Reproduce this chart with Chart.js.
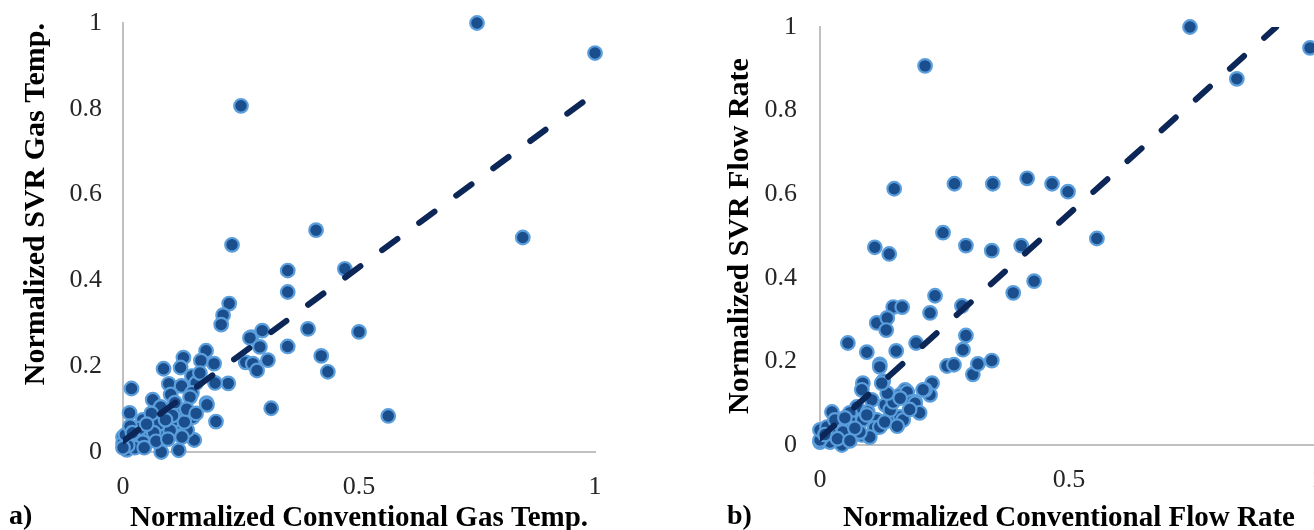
<!DOCTYPE html>
<html>
<head>
<meta charset="utf-8">
<script src="https://cdn.jsdelivr.net/npm/chart.js@4/dist/chart.umd.min.js"></script>
<style>
  html, body { margin: 0; padding: 0; background: #fff; overflow: hidden; }
  #wrap { position: relative; width: 1314px; height: 530px; overflow: hidden; }
  canvas { position: absolute; top: 0; }
  #chartA { left: 0; }
  #chartB { left: 660px; }
  .tag { position: absolute; font: bold 28px "Liberation Serif", "Times New Roman", serif; color: #000; }
</style>
</head>
<body>
<div id="wrap">
  <canvas id="chartA" width="660" height="530"></canvas>
  <canvas id="chartB" width="700" height="530"></canvas>
  <div class="tag" style="left:9px; top:499px;">a)</div>
  <div class="tag" style="left:727px; top:499px;">b)</div>
</div>
<script>
// normalized gas temperature: [conventional, SVR]
const tempPoints = [
	[0.75, 1.0], [1.0, 0.93], [0.25, 0.807], [0.847, 0.5], [0.409, 0.517], [0.231, 0.483],
	[0.349, 0.423], [0.349, 0.373], [0.47, 0.427], [0.225, 0.346], [0.212, 0.319], [0.208, 0.297],
	[0.392, 0.287], [0.5, 0.28], [0.349, 0.246], [0.42, 0.224], [0.434, 0.187], [0.562, 0.084],
	[0.314, 0.102], [0.272, 0.268], [0.295, 0.283], [0.26, 0.209], [0.275, 0.206], [0.284, 0.19],
	[0.307, 0.214], [0.269, 0.266], [0.29, 0.245], [0.223, 0.16], [0.197, 0.071], [0.177, 0.114],
	[0.176, 0.236], [0.165, 0.213], [0.193, 0.206], [0.128, 0.22], [0.086, 0.194], [0.122, 0.197],
	[0.018, 0.148], [0.146, 0.177], [0.097, 0.159], [0.124, 0.154], [0.155, 0.161], [0.146, 0.138],
	[0.101, 0.134], [0.063, 0.122], [0.014, 0.091], [0.148, 0.081], [0.151, 0.028], [0.118, 0.004],
	[0.081, 0.0], [0.119, 0.093], [0.052, 0.035],
	[0.163, 0.184], [0.195, 0.161], [0.142, 0.128], [0.178, 0.11], [0.042, 0.075], [0.068, 0.079],
	[0.089, 0.098], [0.093, 0.058], [0.057, 0.058], [0.03, 0.044], [0.057, 0.035], [0.085, 0.044],
	[0.136, 0.051], [0.0, 0.035], [0.0, 0.021], [0.008, 0.005], [0.021, 0.028], [0.042, 0.023],
	[0.117, 0.068], [0.11, 0.075], [0.1, 0.05], [0.075, 0.065], [0.065, 0.045], [0.035, 0.055],
	[0.025, 0.01], [0.01, 0.015], [0.005, 0.04], [0.045, 0.01], [0.07, 0.025], [0.095, 0.03],
	[0.13, 0.07], [0.125, 0.035], [0.11, 0.115], [0.08, 0.105], [0.06, 0.09], [0.015, 0.06],
	[0.105, 0.085], [0.135, 0.1], [0.155, 0.09], [0.0, 0.01], [0.02, 0.045], [0.05, 0.065], [0.09, 0.075]
];

// normalized flow rate: [conventional, SVR]
const flowPoints = [
	[0.743, 1.0], [0.984, 0.95], [0.837, 0.876], [0.211, 0.907], [0.149, 0.613], [0.27, 0.625],
	[0.347, 0.625], [0.416, 0.638], [0.466, 0.625], [0.498, 0.606], [0.556, 0.494], [0.247, 0.508],
	[0.11, 0.473], [0.139, 0.457], [0.293, 0.477], [0.345, 0.465], [0.404, 0.477], [0.43, 0.392],
	[0.388, 0.364], [0.231, 0.357], [0.147, 0.33], [0.165, 0.33], [0.114, 0.292], [0.135, 0.304],
	[0.133, 0.275], [0.221, 0.316], [0.285, 0.333], [0.293, 0.262], [0.287, 0.228], [0.255, 0.189],
	[0.269, 0.192], [0.307, 0.169], [0.317, 0.194], [0.345, 0.202], [0.056, 0.244], [0.094, 0.222],
	[0.12, 0.193], [0.153, 0.225], [0.193, 0.244], [0.127, 0.153], [0.225, 0.148], [0.221, 0.12],
	[0.191, 0.103], [0.171, 0.132],
	[0.086, 0.148], [0.084, 0.132], [0.211, 0.132], [0.161, 0.12], [0.175, 0.127], [0.185, 0.103],
	[0.131, 0.096], [0.104, 0.108], [0.074, 0.091], [0.06, 0.077], [0.024, 0.079], [0.04, 0.048],
	[0.064, 0.053], [0.086, 0.06], [0.114, 0.06], [0.141, 0.065], [0.161, 0.067], [0.11, 0.041],
	[0.084, 0.024], [0.046, 0.031], [0.02, 0.031], [0.006, 0.019], [0.0, 0.007], [0.02, 0.007],
	[0.044, 0.0], [0.141, 0.084], [0.096, 0.079], [0.147, 0.103], [0.135, 0.124], [0.12, 0.187],
	[0.124, 0.148], [0.161, 0.112], [0.191, 0.1], [0.094, 0.072], [0.0, 0.012], [0.0, 0.036],
	[0.014, 0.043], [0.1, 0.019], [0.08, 0.031], [0.12, 0.043], [0.167, 0.06], [0.2, 0.077],
	[0.207, 0.132], [0.03, 0.06], [0.05, 0.065], [0.07, 0.04], [0.01, 0.025], [0.035, 0.015],
	[0.06, 0.01], [0.13, 0.055], [0.18, 0.085], [0.155, 0.045]
];

// dashed fit lines, start and end
const tempTrend = [[0, 0.025], [0.98, 0.82]];
const flowTrend = [[0, 0.016], [0.916, 1.0]];

const xStep = 0.5;
const yStep = 0.2;

const serif = '"Liberation Serif", "Times New Roman", serif';

const toXY = arr => arr.map(p => ({ x: p[0], y: p[1] }));
// 1 instead of 1.0, 0 instead of 0.0
const tickText = v => String(Number(v.toFixed(1)));

const makeChart = (id, points, trend, xTitle, yTitle, box) => {
	return new Chart(document.getElementById(id), {
		type: 'scatter',
		data: {
			datasets: [
				{
					data: toXY(trend),
					showLine: true,
					pointRadius: 0,
					borderColor: '#0c2658',
					borderWidth: 6,
					borderDash: [19, 27],
					borderCapStyle: 'round',
					order: 0
				},
				{
					data: toXY(points),
					pointRadius: 6.8,
					pointBorderWidth: 2.2,
					backgroundColor: '#1b4e8d',
					borderColor: '#5b9edc',
					order: 1,
					clip: false
				}
			]
		},
		options: {
			responsive: false,
			animation: false,
			events: [],
			layout: { padding: { top: box.top, right: box.right, left: 0, bottom: 0 } },
			plugins: { legend: { display: false }, tooltip: { enabled: false } },
			scales: {
				x: {
					min: 0, max: 1,
					grid: { display: false, drawTicks: false },
					border: { display: true, color: '#c0c0c0', width: 2 },
					ticks: { stepSize: xStep, padding: 20, color: '#262626', font: { family: serif, size: 26 }, callback: tickText },
					title: {
						display: true, text: xTitle, color: '#000',
						font: { family: serif, size: 29, weight: 'bold', lineHeight: 0.8 },
						padding: { top: 0, bottom: 0 }
					},
					afterFit: s => { s.height = box.xHeight; s.paddingLeft = 0; s.paddingRight = 0; }
				},
				y: {
					min: 0, max: 1,
					grid: { display: false, drawTicks: false },
					border: { display: true, color: '#c0c0c0', width: 2 },
					ticks: { stepSize: yStep, padding: box.yPad, color: '#262626', font: { family: serif, size: 26 }, callback: tickText },
					title: {
						display: true, text: yTitle, color: '#000', align: box.titleAlign,
						font: { family: serif, size: 30, weight: 'bold', lineHeight: 1.2 },
						padding: { top: box.titleX, bottom: 0 }
					},
					afterFit: s => { s.width = box.yWidth; s.paddingTop = 0; s.paddingBottom = 0; }
				}
			}
		}
	});
};

makeChart('chartA', tempPoints, tempTrend,
	'Normalized Conventional Gas Temp.', 'Normalized SVR Gas Temp.',
	{ top: 23, right: 65, xHeight: 78, yWidth: 123, yPad: 21, titleX: 18, titleAlign: 'end' });

makeChart('chartB', flowPoints, flowTrend,
	'Normalized Conventional Flow Rate', 'Normalized SVR Flow Rate',
	{ top: 27, right: 42, xHeight: 85, yWidth: 160, yPad: 23, titleX: 62, titleAlign: 'center' });
</script>
</body>
</html>
